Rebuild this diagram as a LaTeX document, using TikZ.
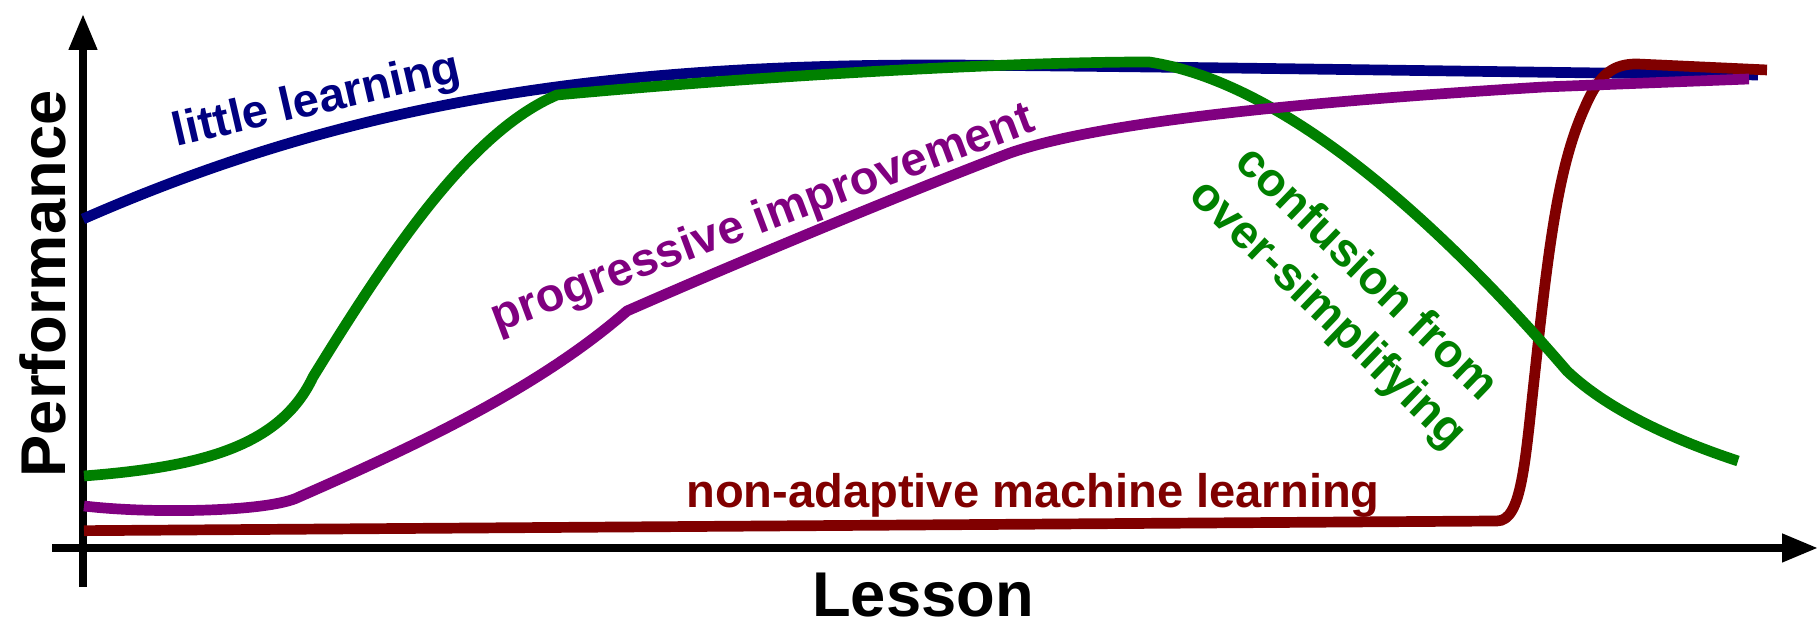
\documentclass[tikz,border=0pt]{standalone}
\usepackage{fontspec}
\setmainfont{Liberation Sans}
\usetikzlibrary{arrows.meta}

\definecolor{navy}{RGB}{0,0,128}
\definecolor{leafgreen}{RGB}{0,128,0}
\definecolor{plum}{RGB}{128,0,128}
\definecolor{maroon}{RGB}{128,0,0}

\tikzset{
    axis/.style={line width=0.075cm, -{Triangle[length=0.36cm,width=0.27cm]}},
    curve/.style={line width=0.107cm, line join=round},
    axislabel/.style={font=\fontsize{18}{20}\selectfont\bfseries, inner sep=0pt},
    curvelabel/.style={font=\fontsize{13.4}{16}\selectfont\bfseries, inner sep=0pt}
}

\begin{document}
\begin{tikzpicture}
    \useasboundingbox (0,0) rectangle (18.2,6.22);
    % axes
    \coordinate (xstart) at (0.52,0.74);
    \coordinate (xend)   at (18.18,0.74);
    \coordinate (ystart) at (0.83,0.35);
    \coordinate (yend)   at (0.83,6.08);
    \draw[axis] (xstart) -- (xend);
    \draw[axis] (ystart) -- (yend);
    \node[axislabel, rotate=90] (perf) at (0.43,3.38) {Performance};
    \node[axislabel] (lesson) at (9.23,0.27) {Lesson};
    % curves
    \draw[curve, color=navy] (0.83,4.03) .. controls (3.5,5.2) and (6,5.58) .. (9.5,5.57)
        .. controls (12,5.55) and (15,5.5) .. (17.58,5.47);
    \draw[curve, color=maroon] (0.84,0.913) -- (14.97,1.01)
        .. controls (15.22,1.01) and (15.25,1.6) .. (15.35,2.5)
        .. controls (15.5,3.9) and (15.6,4.6) .. (15.85,5.15)
        .. controls (16.0,5.5) and (16.15,5.58) .. (16.37,5.58)
        -- (17.67,5.52);
    \draw[curve, color=leafgreen] (0.84,1.46) .. controls (2.0,1.55) and (2.8,1.75) .. (3.13,2.45)
        .. controls (3.9,3.7) and (4.7,4.9) .. (5.57,5.27)
        .. controls (7.5,5.45) and (10,5.6) .. (11.49,5.60)
        .. controls (12.8,5.4) and (14.3,4.1) .. (15.67,2.51)
        .. controls (16.1,2.1) and (16.8,1.8) .. (17.38,1.61);
    \draw[curve, color=plum] (0.84,1.16) .. controls (1.5,1.08) and (2.7,1.10) .. (2.99,1.25)
        .. controls (4.2,1.78) and (5.4,2.35) .. (6.27,3.11)
        .. controls (7.5,3.65) and (9.2,4.35) .. (10.10,4.69)
        .. controls (11,5.0) and (13,5.2) .. (15.44,5.35)
        -- (17.49,5.43);
    % labels
    \node[curvelabel, color=navy, rotate=13]     (little)   at (3.17,5.20) {little learning};
    \node[curvelabel, color=plum, rotate=20.5]   (progress) at (7.63,4.02) {progressive improvement};
    \node[curvelabel, color=maroon, anchor=base] (nonadapt) at (10.33,1.14) {non-adaptive machine learning};
    \node[curvelabel, color=leafgreen, rotate=-44, align=center] (confusion) at (13.46,3.27) {confusion from\\over-simplifying};
\end{tikzpicture}
\end{document}
